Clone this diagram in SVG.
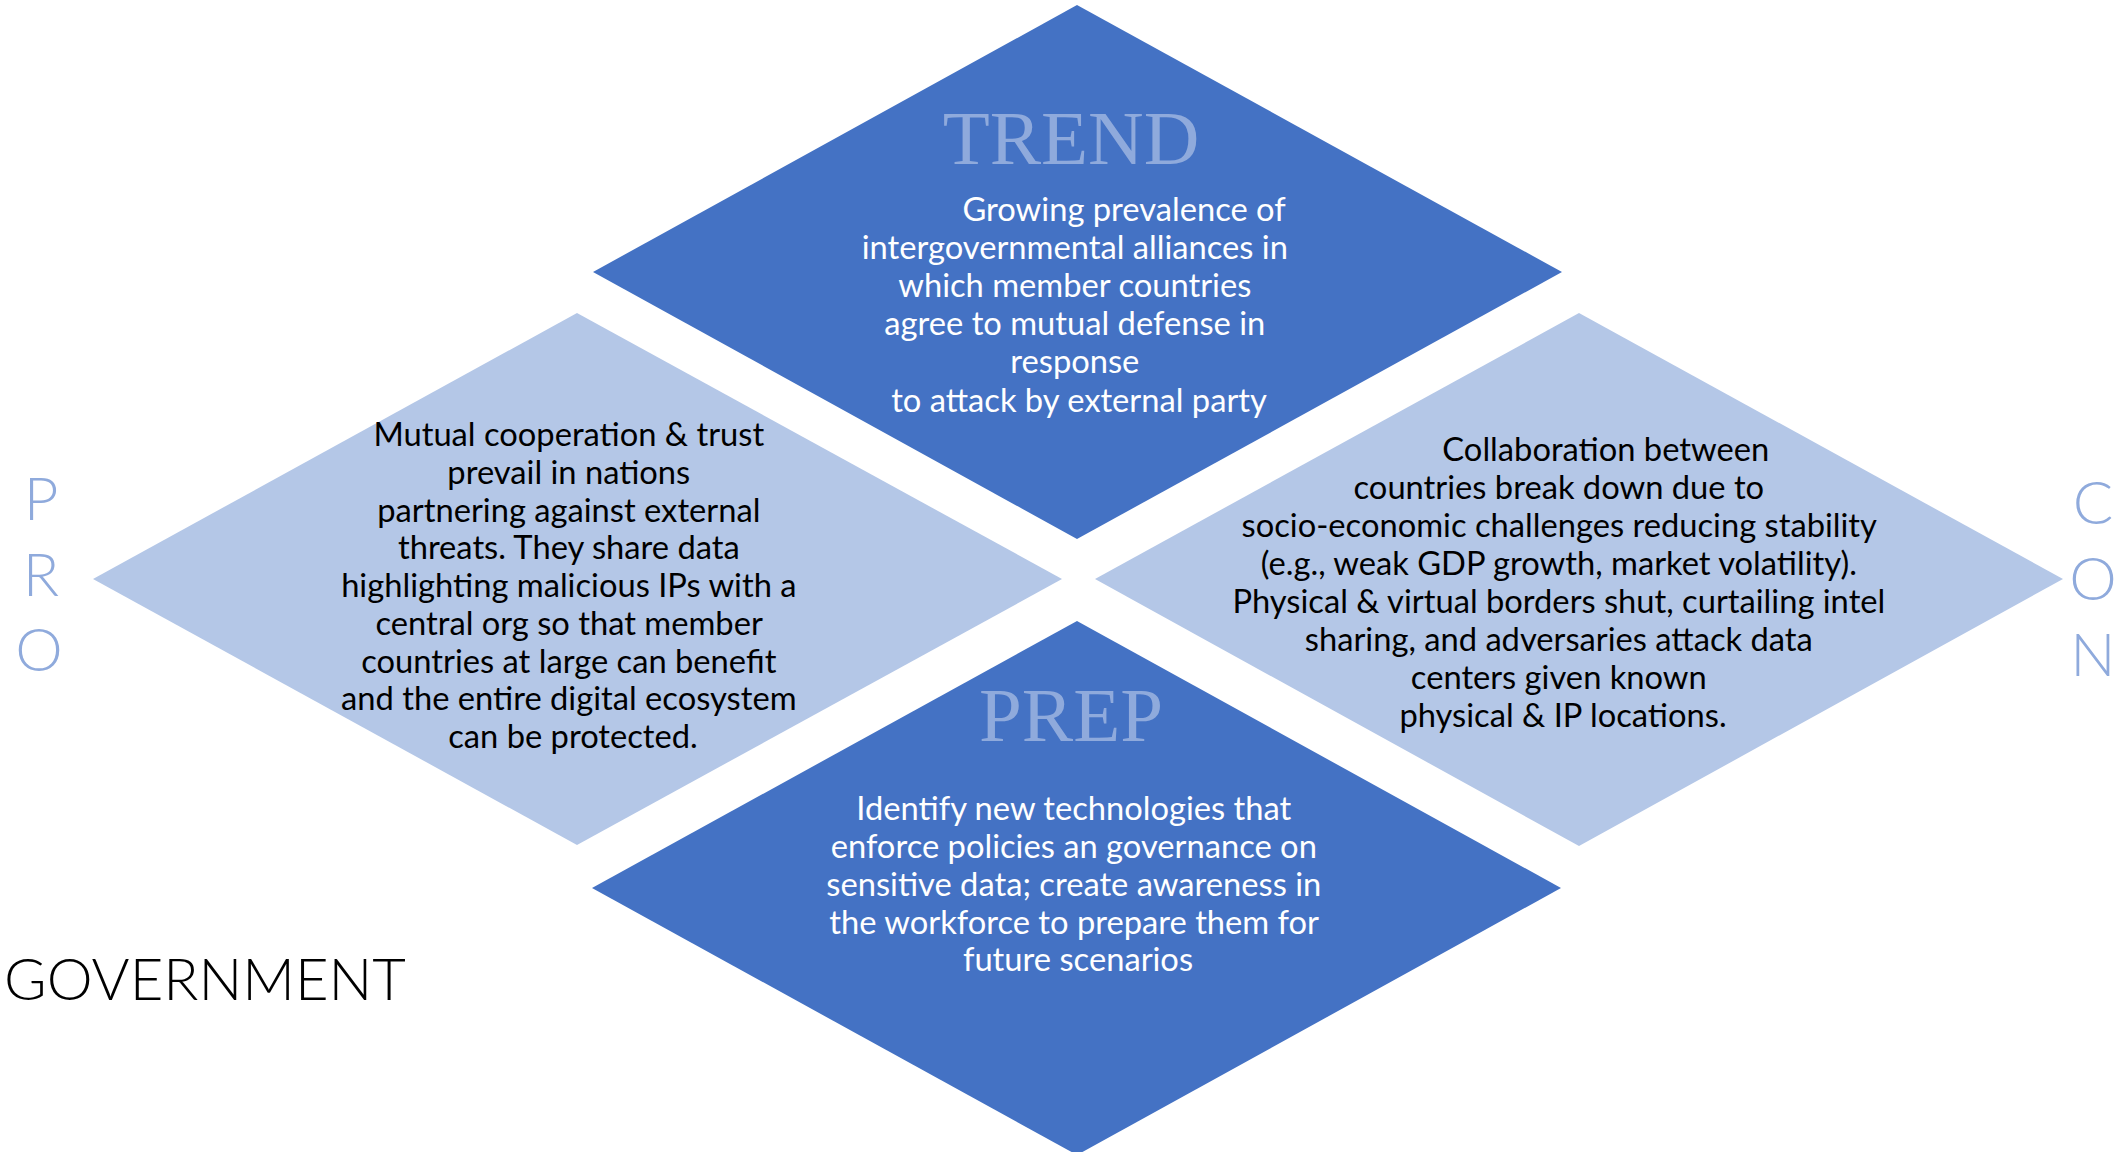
<svg xmlns="http://www.w3.org/2000/svg" width="2125" height="1152" viewBox="0 0 2125 1152">
<style>
.dark{fill:#4472C4}
.light{fill:#B4C7E7}
.body{font-family:Lato,"Noto Sans","Liberation Sans",sans-serif;font-size:32.7px;text-anchor:middle}
.w{fill:#FFFFFF}
.k{fill:#000000}
.title{font-family:"Liberation Serif","Times New Roman",serif;font-size:77px;fill:#8FAADC;text-anchor:middle}
.side{font-family:Lato,"Noto Sans","Liberation Sans",sans-serif;font-weight:300;font-size:60px;fill:#8FAADC;text-anchor:middle}
.gov{font-family:Lato,"Noto Sans","Liberation Sans",sans-serif;font-weight:300;font-size:58px;fill:#000000}
</style>
<rect width="2125" height="1152" fill="#FFFFFF"/>
<g id="trend">
<polygon class="dark" points="1077,5 1562,272 1077,539 593,272"/>
<text class="title" x="1071" y="164">TREND</text>
<text class="body w">
<tspan x="1128" y="221">Growing prevalence of</tspan>
<tspan x="1079" y="259">intergovernmental alliances in</tspan>
<tspan x="1079" y="297">which member countries</tspan>
<tspan x="1079" y="335">agree to mutual defense in</tspan>
<tspan x="1079" y="373">response</tspan>
<tspan x="1079" y="412">to attack by external party</tspan>
</text>
</g>
<g id="pro">
<polygon class="light" points="577,313 1062,579 577,845 93,579"/>
<text class="body k">
<tspan x="573" y="446">Mutual cooperation &amp; trust</tspan>
<tspan x="573" y="484">prevail in nations</tspan>
<tspan x="573" y="522">partnering against external</tspan>
<tspan x="573" y="559">threats. They share data</tspan>
<tspan x="573" y="597">highlighting malicious IPs with a</tspan>
<tspan x="573" y="635">central org so that member</tspan>
<tspan x="573" y="673">countries at large can benefit</tspan>
<tspan x="573" y="710">and the entire digital ecosystem</tspan>
<tspan x="573" y="748">can be protected.</tspan>
</text>
</g>
<g id="con">
<polygon class="light" points="1579,313 2063,579 1579,846 1095,579"/>
<text class="body k">
<tspan x="1610" y="461">Collaboration between</tspan>
<tspan x="1563" y="499">countries break down due to</tspan>
<tspan x="1563" y="537">socio-economic challenges reducing stability</tspan>
<tspan x="1563" y="575">(e.g., weak GDP growth, market volatility).</tspan>
<tspan x="1563" y="613">Physical &amp; virtual borders shut, curtailing intel</tspan>
<tspan x="1563" y="651">sharing, and adversaries attack data</tspan>
<tspan x="1563" y="689">centers given known</tspan>
<tspan x="1563" y="727">physical &amp; IP locations.</tspan>
</text>
</g>
<g id="prep">
<polygon class="dark" points="1077,621 1561,888 1077,1155 592,888"/>
<text class="title" x="1071" y="741">PREP</text>
<text class="body w">
<tspan x="1078" y="820">Identify new technologies that</tspan>
<tspan x="1078" y="858">enforce policies an governance on</tspan>
<tspan x="1078" y="896">sensitive data; create awareness in</tspan>
<tspan x="1078" y="934">the workforce to prepare them for</tspan>
<tspan x="1078" y="971">future scenarios</tspan>
</text>
</g>
<g id="pro-label">
<text class="side" x="41" y="520">P</text>
<text class="side" x="41" y="596">R</text>
<text class="side" x="39" y="671">O</text>
</g>
<g id="con-label">
<text class="side" x="2093" y="524">C</text>
<text class="side" x="2093" y="600">O</text>
<text class="side" x="2093" y="676">N</text>
</g>
<g id="government">
<text class="gov" x="4" y="1000">GOVERNMENT</text>
</g>
</svg>
